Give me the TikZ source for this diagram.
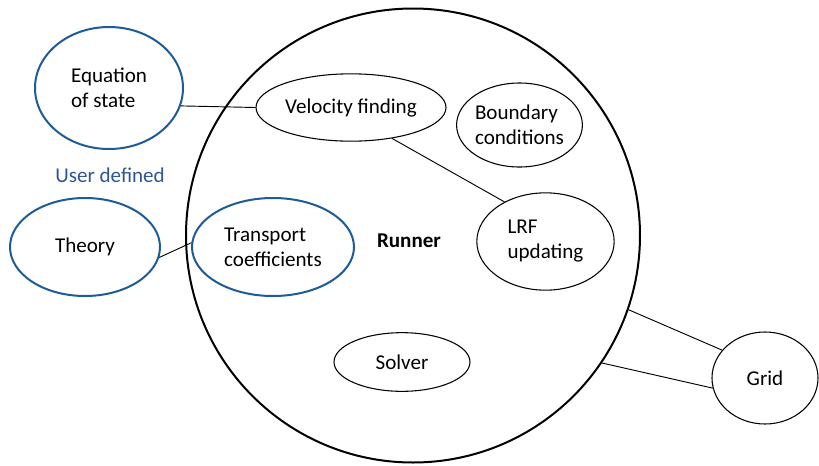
\documentclass[tikz,border=0pt]{standalone}
\usepackage{fontspec}
\setmainfont{Carlito}
\usetikzlibrary{shapes.geometric}
\definecolor{userblue}{RGB}{31,91,152}
\definecolor{usertext}{RGB}{47,85,151}
\tikzset{basic/.style={draw,ellipse,inner sep=0pt,
                       font=\fontsize{15.8}{18.8}\selectfont}}
\tikzset{part/.style={basic,line width=0.8pt}}

\begin{document}
\begin{tikzpicture}[x=0.75pt,y=-0.75pt,
    % styles for clarity
    user/.style   ={basic, draw=userblue, line width=1.5pt},
    runner/.style ={draw, circle, line width=1.5pt, minimum size=340.5pt},
    link/.style   ={draw, line width=0.7pt}
  ]
    \useasboundingbox (0,0) rectangle (819,465);

    \node[runner](run) at (413,235.5) {};
    \node[font=\fontsize{15.8}{18.8}\selectfont\bfseries] (runlabel) at (409,241) {Runner};

    % user defined parts
    \node[user, minimum width=111pt, minimum height=91.5pt, align=left](eos) at (109,88) {Equation\\of state};
    \node[user, minimum width=112.5pt, minimum height=73.5pt](theory) at (85,247) {Theory};
    \node[user, minimum width=121.5pt, minimum height=73.5pt, align=left](trans) at (273,247) {Transport\\coefficients};
    \node[font=\fontsize{15.8}{18.8}\selectfont, text=usertext](userdef) at (110,175) {User defined};

    % parts of the runner
    \node[part, minimum width=142.5pt, minimum height=50.5pt](vel) at (351,107.5) {Velocity finding};
    \node[part, minimum width=94pt, minimum height=63pt, align=left](bound) at (519.5,125) {Boundary\\conditions};
    \node[part, minimum width=103pt, minimum height=73pt, align=left](lrf) at (545.5,241.5) {LRF\\updating};
    \node[part, minimum width=102pt, minimum height=44pt](solver) at (402,362) {Solver};
    \node[part, minimum width=79.5pt, minimum height=69pt](grid) at (765,378) {Grid};

    \draw[link] (eos.-14) -- (vel.west);
    \draw[link] (vel.-37) -- (lrf.136);
    \draw[link] (theory.-8.5) -- (trans.177);
    \draw[link] (run.-19.5) -- (grid.147);
    \draw[link] (run.-34.8) -- (grid.191);
  \end{tikzpicture}
\end{document}
